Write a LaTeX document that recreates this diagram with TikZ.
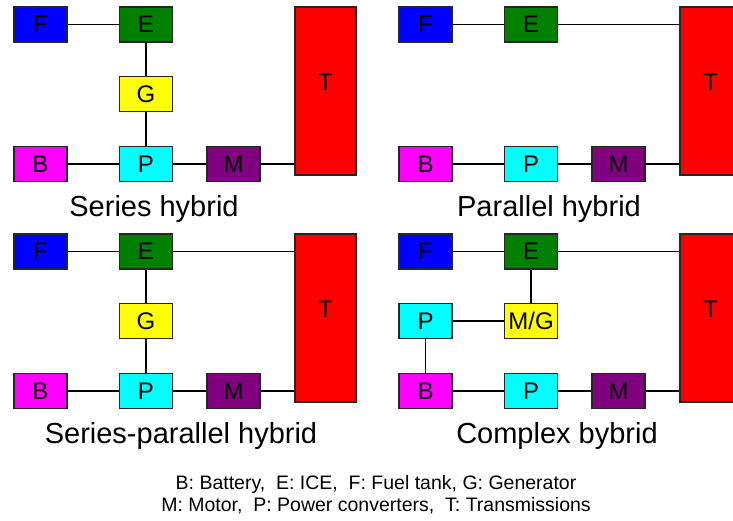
\documentclass[tikz,border=0pt]{standalone}
\usepackage{fontspec}
\setmainfont{Liberation Sans}
\usepackage{tikz}

\begin{document}
\begin{tikzpicture}[
  x=1pt,y=-1pt,line width=1.3pt,
  blk/.style={draw=black!85,line width=1.2pt,minimum width=53pt,minimum height=35pt,inner sep=0pt,font=\fontsize{24}{26}\selectfont},
  tank/.style={blk,fill={rgb,255:red,0;green,0;blue,255}},
  ice/.style={blk,fill={rgb,255:red,0;green,128;blue,0}},
  gen/.style={blk,fill={rgb,255:red,255;green,255;blue,0}},
  bat/.style={blk,fill={rgb,255:red,255;green,0;blue,255}},
  conv/.style={blk,fill={rgb,255:red,0;green,255;blue,255}},
  mot/.style={blk,fill={rgb,255:red,128;green,0;blue,128}},
  trans/.style={blk,fill={rgb,255:red,255;green,0;blue,0},minimum width=61pt,minimum height=168pt,text depth=18pt},
  title/.style={font=\fontsize{29}{32}\selectfont}
]
  \clip (0,0) rectangle (733,520);
  \useasboundingbox (0,0) rectangle (733,520);
  % series hybrid
  \begin{scope}
    \node[tank] (f1) at (40.5,24.5) {F};
    \node[ice] (e1) at (146,24.5) {E};
    \node[gen] (g1) at (146,94) {G};
    \node[bat] (b1) at (40.5,164) {B};
    \node[conv] (p1) at (146,164) {P};
    \node[mot] (m1) at (233.5,164) {M};
    \node[trans] (t1) at (325.5,91) {T};
    \draw (f1)--(e1); \draw (e1)--(g1); \draw (g1)--(p1);
    \draw (b1)--(p1); \draw (p1)--(m1); \draw (m1)--(m1-|t1.west);
    \node[title] (c1) at (154,209) {Series hybrid};
  \end{scope}
  % parallel hybrid
  \begin{scope}[shift={(385,0)}]
    \node[tank] (f2) at (40.5,24.5) {F};
    \node[ice] (e2) at (146,24.5) {E};
    \node[bat] (b2) at (40.5,164) {B};
    \node[conv] (p2) at (146,164) {P};
    \node[mot] (m2) at (233.5,164) {M};
    \node[trans] (t2) at (325.5,91) {T};
    \draw (f2)--(e2); \draw (e2)--(e2-|t2.west);
    \draw (b2)--(p2); \draw (p2)--(m2); \draw (m2)--(m2-|t2.west);
    \node[title] (c2) at (164,209) {Parallel hybrid};
  \end{scope}
  % series-parallel hybrid
  \begin{scope}[shift={(0,227)}]
    \node[tank] (f3) at (40.5,24.5) {F};
    \node[ice] (e3) at (146,24.5) {E};
    \node[gen] (g3) at (146,94) {G};
    \node[bat] (b3) at (40.5,164) {B};
    \node[conv] (p3) at (146,164) {P};
    \node[mot] (m3) at (233.5,164) {M};
    \node[trans] (t3) at (325.5,91) {T};
    \draw (f3)--(e3); \draw (e3)--(e3-|t3.west); \draw (e3)--(g3); \draw (g3)--(p3);
    \draw (b3)--(p3); \draw (p3)--(m3); \draw (m3)--(m3-|t3.west);
    \node[title] (c3) at (181,209) {Series-parallel hybrid};
  \end{scope}
  % complex hybrid
  \begin{scope}[shift={(385,227)}]
    \node[tank] (f4) at (40.5,24.5) {F};
    \node[ice] (e4) at (146,24.5) {E};
    \node[conv] (q4) at (40.5,94) {P};
    \node[gen] (g4) at (146,94) {M/G};
    \node[bat] (b4) at (40.5,164) {B};
    \node[conv] (p4) at (146,164) {P};
    \node[mot] (m4) at (233.5,164) {M};
    \node[trans] (t4) at (325.5,91) {T};
    \draw (f4)--(e4); \draw (e4)--(e4-|t4.west); \draw (e4)--(g4);
    \draw (q4)--(g4); \draw (q4)--(b4);
    \draw (b4)--(p4); \draw (p4)--(m4); \draw (m4)--(m4-|t4.west);
    \node[title] (c4) at (172,209) {Complex bybrid};
  \end{scope}
  \node[align=center,font=\fontsize{19.5}{22}\selectfont] (key) at (376,495)
    {B: Battery,\ \ E: ICE,\ \ F: Fuel tank, G: Generator\\
     M: Motor,\ \ P: Power converters,\ \ T: Transmissions};
\end{tikzpicture}
\end{document}
